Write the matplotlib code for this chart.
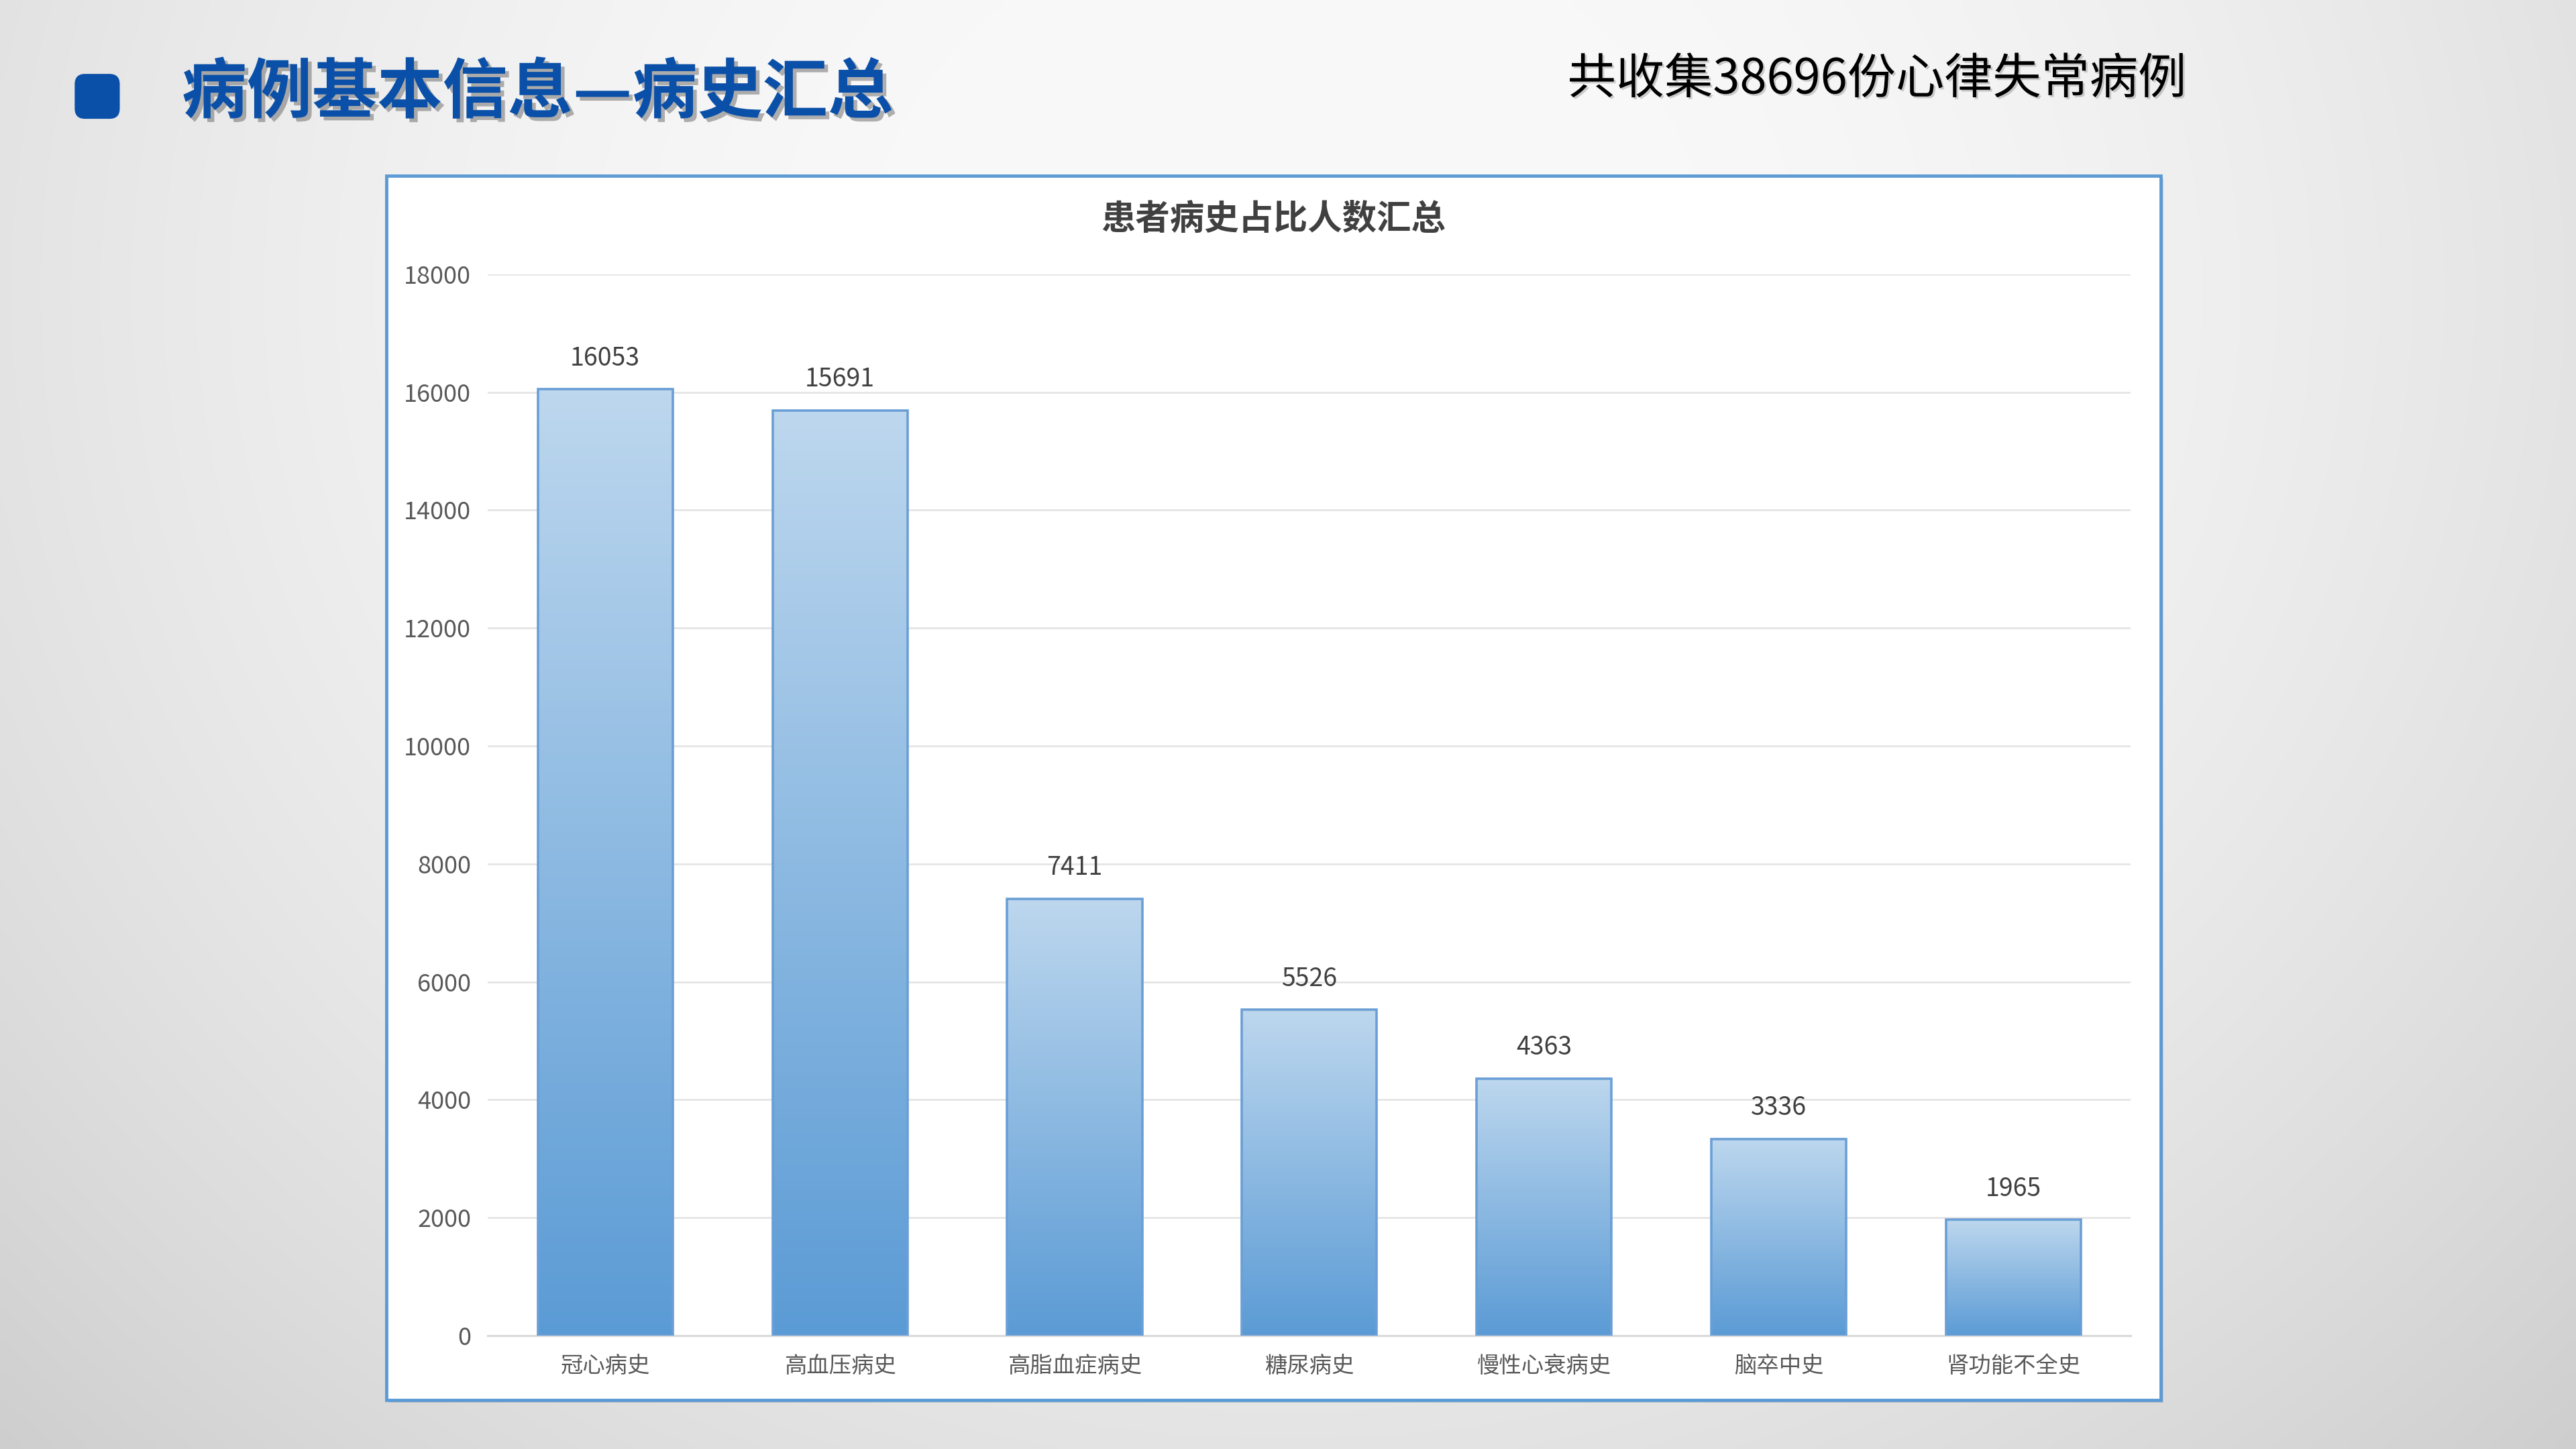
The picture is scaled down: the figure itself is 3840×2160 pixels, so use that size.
import numpy as np
import matplotlib
matplotlib.use('Agg')
import matplotlib.pyplot as plt
import matplotlib.patheffects as pe
from matplotlib.colors import LinearSegmentedColormap
from matplotlib.patches import Rectangle, FancyBboxPatch

plt.rcParams['font.family'] = ['Noto Sans CJK SC', 'DejaVu Sans']

# data
categories = ['冠心病史', '高血压病史', '高脂血症病史', '糖尿病史', '慢性心衰病史', '脑卒中史', '肾功能不全史']
counts = [16053, 15691, 7411, 5526, 4363, 3336, 1965]
yticks = [0, 2000, 4000, 6000, 8000, 10000, 12000, 14000, 16000, 18000]

page_title = '病例基本信息—病史汇总'
note_text = '共收集38696份心律失常病例'
chart_title = '患者病史占比人数汇总'

fig = plt.figure(figsize=(38.4, 21.6), dpi=100)

# page background, light in the middle, grey at the sides
bg = fig.add_axes([0, 0, 1, 1], zorder=-10)
xx, yy = np.meshgrid(np.linspace(-1, 1, 400), np.linspace(-1, 1, 225))
d = np.sqrt((xx / 1.0) ** 2 + ((yy + 0.6) / 1.6) ** 2)
shade = 0.975 - 0.13 * np.clip(d - 0.25, 0, None) ** 1.6
bg.imshow(np.dstack([shade] * 3), extent=[0, 1, 0, 1], aspect='auto', interpolation='bicubic')
bg.set_axis_off()

# blue square marker and page title
fig.patches.append(FancyBboxPatch((0.0290, 0.9180), 0.0175, 0.0310,
                                  boxstyle='round,pad=0,rounding_size=0.004',
                                  transform=fig.transFigure, facecolor='#0B50A8',
                                  edgecolor='none', zorder=2, mutation_aspect=1.78))
fig.text(0.0705, 0.9355, page_title, fontsize=70, fontweight='heavy', color='#0B50A8',
         va='center', ha='left',
         path_effects=[pe.SimplePatchShadow(offset=(4, -4), shadow_rgbFace='#555555', alpha=0.45),
                       pe.Normal()])
fig.text(0.6085, 0.9450, note_text, fontsize=52, color='black', va='center', ha='left',
         path_effects=[pe.SimplePatchShadow(offset=(2, -2), shadow_rgbFace='#888888', alpha=0.4),
                       pe.Normal()])

# white chart frame with blue border
frame = Rectangle((0.1499, 0.0340), 0.6888, 0.8447, transform=fig.transFigure,
                  facecolor='white', edgecolor='#5B9BD5', linewidth=3.5, zorder=1,
                  path_effects=[pe.SimplePatchShadow(offset=(3, -3), shadow_rgbFace='#999999', alpha=0.35),
                                pe.Normal()])
fig.patches.append(frame)
fig.text(0.4943, 0.8490, chart_title, fontsize=37, fontweight='bold', color='#404040',
         ha='center', va='center', zorder=3)

ax = fig.add_axes([0.1894, 0.0782, 0.6378, 0.7325], zorder=2)
ax.set_facecolor('none')

x = np.arange(len(categories))
bars = ax.bar(x, counts, width=0.575, facecolor='none', edgecolor='#6A9FD6',
              linewidth=2.6, zorder=4)

grad_cmap = LinearSegmentedColormap.from_list('barfill', ['#5B9BD5', '#BDD7EE'])
grad = np.linspace(0, 1, 256).reshape(-1, 1)
for b in bars:
    x0, w, h = b.get_x(), b.get_width(), b.get_height()
    im = ax.imshow(grad, extent=[x0, x0 + w, 0, h], origin='lower', cmap=grad_cmap,
                   aspect='auto', zorder=3, interpolation='bilinear')
    im.set_clip_path(b)
    ax.annotate(f'{int(h)}', (x0 + w / 2, h), xytext=(0, 19), textcoords='offset points',
                ha='center', va='bottom', fontsize=27, color='#404040', zorder=5)

ax.set_xlim(-0.5, len(categories) - 0.5)
ax.set_ylim(0, 18000)
ax.set_yticks(yticks)
ax.set_yticklabels([str(t) for t in yticks])
ax.set_xticks(x)
ax.set_xticklabels(categories)
ax.tick_params(axis='y', length=0, pad=18, labelsize=26, labelcolor='#595959')
ax.tick_params(axis='x', length=0, pad=20, labelsize=24, labelcolor='#595959')
ax.grid(axis='y', color='#E3E3E3', linewidth=1.8, zorder=0)
ax.set_axisbelow(True)
for s in ['top', 'right', 'left']:
    ax.spines[s].set_visible(False)
ax.spines['bottom'].set_color('#D9D9D9')
ax.spines['bottom'].set_linewidth(2.2)

fig.savefig('out.png', dpi=100)
